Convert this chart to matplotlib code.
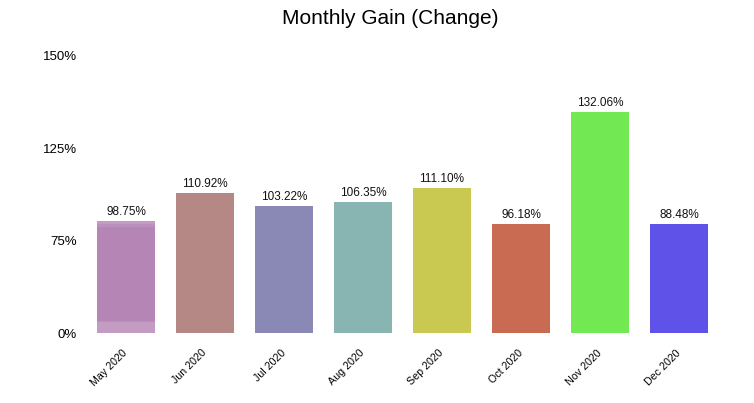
import matplotlib
matplotlib.use("Agg")
import matplotlib.pyplot as plt
import numpy as np
from matplotlib.colors import to_rgb

plt.rcParams['font.family'] = ['Liberation Sans', 'DejaVu Sans']

months = ["May 2020", "Jun 2020", "Jul 2020", "Aug 2020",
          "Sep 2020", "Oct 2020", "Nov 2020", "Dec 2020"]
gain_labels = ["98.75%", "110.92%", "103.22%", "106.35%",
               "111.10%", "96.18%", "132.06%", "88.48%"]
# bar heights as drawn on the chart's axis (axis units)
bar_heights = [60.9, 76.0, 68.8, 71.1, 78.7, 59.2, 119.8, 59.2]
colors = ["#B585B5", "#B58886", "#8A88B5", "#88B5B2",
          "#C9C952", "#C96B52", "#72E852", "#5E52E8"]
ytick_pos = [0, 50, 100, 150]
ytick_labels = ["0%", "75%", "125%", "150%"]

fig = plt.figure(figsize=(7.54, 4.03), dpi=100)
ax = fig.add_axes([86.5/754, 1 - 333.3/403, 632/754, (333.3 - 55.7)/403])

x = np.arange(len(months))
bars = ax.bar(x, bar_heights, width=0.734, color=colors, zorder=2)

# first bar has a lighter (hover-like) band at top and bottom
b0 = bars[0]
base = np.array(to_rgb(colors[0]))
light = np.array(to_rgb("#C39BC3"))
n = 200
prof = np.zeros(n)
frac = np.linspace(0, 1, n)  # 0 = bottom, 1 = top
prof[frac < 0.095] = 1.0
prof[(frac >= 0.095) & (frac < 0.11)] = 0.5
prof[frac > 0.965] = 1.0
prof[(frac > 0.94) & (frac <= 0.965)] = 0.5
img = base[None, :] * (1 - prof[:, None]) + light[None, :] * prof[:, None]
img = np.repeat(img[:, None, :], 2, axis=1)
bx, by = b0.get_x(), b0.get_y()
bw, bh = b0.get_width(), b0.get_height()
im = ax.imshow(img, extent=[bx, bx + bw, by, by + bh], origin="lower",
               aspect="auto", zorder=3, interpolation="nearest")
im.set_clip_path(b0)

for xi, h, lab in zip(x, bar_heights, gain_labels):
    ax.annotate(lab, (xi, h), xytext=(0, 2), textcoords="offset points",
                ha="center", va="bottom", fontsize=8.5, color="#111111", zorder=4)

ax.set_xlim(-0.5, len(months) - 0.5)
ax.set_ylim(0, 150)
ax.set_yticks(ytick_pos)
ax.set_yticklabels(ytick_labels, fontsize=9.5)
ax.set_xticks(x)
ax.set_xticklabels(months, rotation=45, ha="right", va="center",
                   rotation_mode="anchor", fontsize=7.7)
ax.tick_params(axis="both", length=0)
ax.tick_params(axis="y", pad=7)
ax.tick_params(axis="x", pad=13)
for s in ax.spines.values():
    s.set_visible(False)

fig.text(390/754, 1 - 18/403, "Monthly Gain (Change)", ha="center", va="center",
         fontsize=15)

fig.savefig("out.png", dpi=100)
